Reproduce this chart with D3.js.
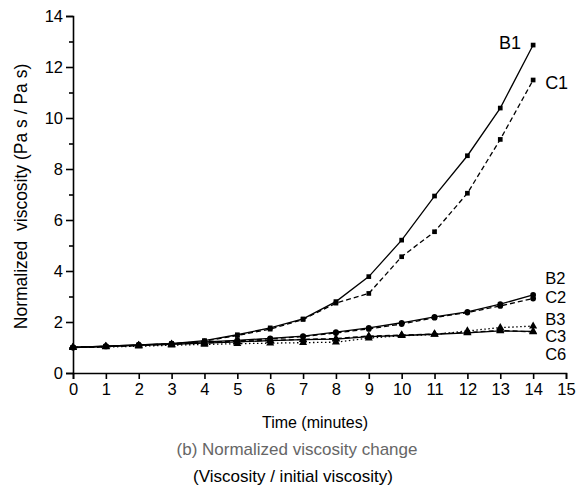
<!DOCTYPE html>
<html>
<head>
<meta charset="utf-8">
<script src="https://cdn.jsdelivr.net/npm/d3@7"></script>
<style>
  body { margin: 0; background: #fff; }
  text { font-family: "Liberation Sans", Arial, sans-serif; }
</style>
</head>
<body>
<script>
'use strict';

// time in minutes
const times = [0, 1, 2, 3, 4, 5, 6, 7, 8, 9, 10, 11, 12, 13, 14];

// normalized viscosity per mix
const b1 = [1.0, 1.05, 1.1, 1.15, 1.27, 1.5, 1.77, 2.12, 2.8, 3.78, 5.21, 6.94, 8.52, 10.39, 12.86];
const c1 = [1.0, 1.04, 1.09, 1.14, 1.25, 1.47, 1.72, 2.1, 2.74, 3.12, 4.56, 5.54, 7.05, 9.16, 11.49];
const b2 = [1.0, 1.05, 1.1, 1.15, 1.22, 1.28, 1.36, 1.45, 1.6, 1.77, 1.97, 2.2, 2.4, 2.7, 3.06];
const c2 = [1.0, 1.04, 1.09, 1.14, 1.2, 1.26, 1.34, 1.43, 1.57, 1.73, 1.92, 2.17, 2.37, 2.63, 2.92];
const b3 = [1.0, 1.04, 1.08, 1.12, 1.17, 1.22, 1.27, 1.31, 1.33, 1.43, 1.47, 1.52, 1.57, 1.65, 1.63];
const c3 = [1.0, 1.04, 1.08, 1.13, 1.18, 1.23, 1.28, 1.32, 1.35, 1.45, 1.49, 1.53, 1.59, 1.67, 1.61];
const c6 = [1.0, 1.02, 1.05, 1.09, 1.12, 1.15, 1.17, 1.19, 1.21, 1.37, 1.46, 1.51, 1.65, 1.78, 1.84];

const seriesNames = ['B1', 'C1', 'B2', 'C2', 'B3', 'C3', 'C6'];
const seriesValues = [b1, c1, b2, c2, b3, c3, c6];
// y value (data units) where each series name is written
const labelValues = [12.95, 11.4, 3.72, 2.98, 2.12, 1.43, 0.75];

const xTicks = d3.range(0, 16, 1);
const yTicks = d3.range(0, 15, 2);
const yMinorTicks = d3.range(1, 14, 2);

const width = 582, height = 488;
const margin = { left: 73, right: 16, top: 16, bottom: 115 };

const svg = d3.select('body').append('svg')
  .attr('width', width)
  .attr('height', height);

const x = d3.scaleLinear().domain([0, 15]).range([margin.left, width - margin.right]);
const y = d3.scaleLinear().domain([0, 14]).range([height - margin.bottom, margin.top]);

// line styles and markers per series
const styles = {
  B1: { dash: null, marker: 'square' },
  C1: { dash: '5,3', marker: 'square' },
  B2: { dash: null, marker: 'circle' },
  C2: { dash: '5,3', marker: 'circle' },
  B3: { dash: null, marker: 'triangle' },
  C3: { dash: '5,3', marker: 'triangle' },
  C6: { dash: '1.5,2.5', marker: 'triangle' }
};

// axes
const xAxis = d3.axisBottom(x).tickValues(xTicks).tickSize(6).tickPadding(4).tickFormat(d3.format('d'));
const gx = svg.append('g')
  .attr('transform', `translate(0,${y(0)})`)
  .call(xAxis);

const yAxis = d3.axisLeft(y).tickValues(yTicks).tickSize(7).tickPadding(3).tickFormat(d3.format('d'));
const gy = svg.append('g')
  .attr('transform', `translate(${x(0)},0)`)
  .call(yAxis);

svg.append('g')
  .attr('transform', `translate(${x(0)},0)`)
  .call(d3.axisLeft(y).tickValues(yMinorTicks).tickSize(4).tickFormat(''))
  .select('.domain').remove();

[gx, gy].forEach(g => {
  g.select('.domain').attr('stroke', '#000').attr('stroke-width', 1.6);
  g.selectAll('.tick text').attr('fill', '#000').style('font-size', '16.5px')
    .style('font-family', '"Liberation Sans", Arial, sans-serif');
});
svg.selectAll('g').selectAll('.tick line').attr('stroke', '#000').attr('stroke-width', 1.6);

// lines
const line = d3.line()
  .x((d, i) => x(times[i]))
  .y(d => y(d));

const sym = {
  square: d3.symbol().type(d3.symbolSquare).size(22),
  circle: d3.symbol().type(d3.symbolCircle).size(26),
  triangle: d3.symbol().type(d3.symbolTriangle).size(28)
};

seriesNames.forEach((name, k) => {
  const vals = seriesValues[k];
  const st = styles[name];
  svg.append('path')
    .datum(vals)
    .attr('d', line)
    .attr('fill', 'none')
    .attr('stroke', '#000')
    .attr('stroke-width', 1.3)
    .attr('stroke-dasharray', st.dash);

  svg.selectAll(null)
    .data(vals)
    .enter()
    .append('path')
      .attr('d', sym[st.marker])
      .attr('transform', (d, i) => `translate(${x(times[i])},${y(d)})`)
      .attr('fill', '#000');
});

// series labels
seriesNames.forEach((name, k) => {
  const first = name === 'B1';
  svg.append('text')
    .attr('x', first ? x(14) - 12 : x(14) + 12)
    .attr('y', y(labelValues[k]))
    .attr('dy', '0.35em')
    .attr('text-anchor', first ? 'end' : 'start')
    .style('font-size', first || name === 'C1' ? '18px' : '16.5px')
    .text(name);
});

// titles
svg.append('text')
  .attr('x', 315)
  .attr('y', 428)
  .attr('text-anchor', 'middle')
  .style('font-size', '16px')
  .text('Time (minutes)');

svg.append('text')
  .attr('x', 297)
  .attr('y', 455)
  .attr('text-anchor', 'middle')
  .attr('fill', '#666')
  .style('font-size', '17px')
  .text('(b) Normalized viscosity change');

svg.append('text')
  .attr('x', 293)
  .attr('y', 482)
  .attr('text-anchor', 'middle')
  .style('font-size', '17px')
  .text('(Viscosity / initial viscosity)');

svg.append('text')
  .attr('transform', `translate(27,${(y(0) + y(14)) / 2 + 2})rotate(-90)`)
  .attr('text-anchor', 'middle')
  .attr('xml:space', 'preserve')
  .style('white-space', 'pre')
  .style('font-size', '17.5px')
  .text('Normalized  viscosity (Pa s / Pa s)');
</script>
</body>
</html>
